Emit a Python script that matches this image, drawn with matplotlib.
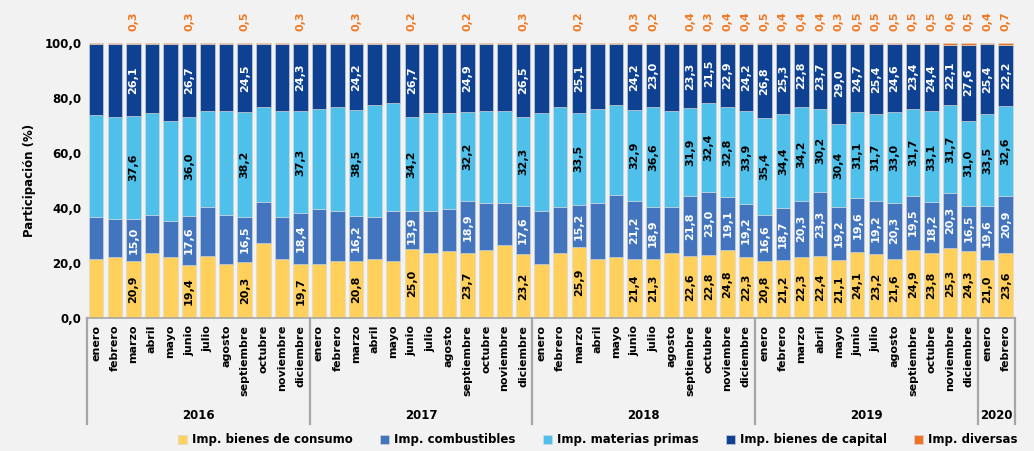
"""
Participación de las importaciones por tipo (%), enero 2016 - febrero 2020
"""
import matplotlib
matplotlib.use("Agg")
import matplotlib.pyplot as plt
import numpy as np

plt.rcParams["font.family"] = ["DejaVu Sans"]

MESES = ["enero", "febrero", "marzo", "abril", "mayo", "junio", "julio",
         "agosto", "septiembre", "octubre", "noviembre", "diciembre"]
meses = MESES * 4 + MESES[:2]
anios = ["2016", "2017", "2018", "2019", "2020"]
meses_por_anio = [12, 12, 12, 12, 2]

# --- data (% of total imports) ---
consumo = [21.3, 22.0, 20.9, 23.5, 22.0, 19.4, 22.7, 19.8, 20.3, 27.2, 21.3, 19.7,
           19.8, 20.6, 20.8, 21.3, 20.6, 25.0, 23.5, 24.2, 23.7, 24.9, 26.4, 23.2,
           19.8, 23.5, 25.9, 21.3, 22.0, 21.4, 21.3, 23.5, 22.6, 22.8, 24.8, 22.3,
           20.8, 21.2, 22.3, 22.4, 21.1, 24.1, 23.2, 21.6, 24.9, 23.8, 25.3, 24.3,
           21.0, 23.6]
combustibles = [15.5, 14.0, 15.0, 14.0, 13.3, 17.6, 17.7, 17.7, 16.5, 14.8, 15.5, 18.4,
                19.9, 18.3, 16.2, 15.5, 18.3, 13.9, 15.4, 15.5, 18.9, 16.9, 15.4, 17.6,
                19.1, 16.9, 15.2, 20.5, 22.9, 21.2, 18.9, 16.9, 21.8, 23.0, 19.1, 19.2,
                16.6, 18.7, 20.3, 23.3, 19.2, 19.6, 19.2, 20.3, 19.5, 18.2, 20.3, 16.5,
                19.6, 20.9]
materias = [37.0, 37.2, 37.6, 37.1, 36.3, 36.0, 34.9, 37.8, 38.2, 34.8, 38.5, 37.3,
            36.4, 37.9, 38.5, 40.7, 39.3, 34.2, 35.7, 34.9, 32.2, 33.5, 33.5, 32.3,
            35.7, 36.4, 33.5, 34.3, 32.6, 32.9, 36.6, 34.9, 31.9, 32.4, 32.8, 33.9,
            35.4, 34.4, 34.2, 30.2, 30.4, 31.1, 31.7, 33.0, 31.7, 33.1, 31.7, 31.0,
            33.5, 32.6]
capital = [26.0, 26.6, 26.1, 25.0, 28.0, 26.7, 24.3, 24.5, 24.5, 22.8, 24.5, 24.3,
           23.7, 23.0, 24.2, 22.3, 21.6, 26.7, 25.2, 25.2, 24.9, 24.5, 24.5, 26.5,
           25.2, 23.0, 25.1, 23.5, 22.2, 24.2, 23.0, 24.5, 23.3, 21.5, 22.9, 24.2,
           26.8, 25.3, 22.8, 23.7, 29.0, 24.7, 25.4, 24.6, 23.4, 24.4, 22.1, 27.6,
           25.4, 22.2]
diversas = [0.2, 0.2, 0.3, 0.4, 0.4, 0.3, 0.4, 0.2, 0.5, 0.4, 0.2, 0.3,
            0.2, 0.2, 0.3, 0.2, 0.2, 0.2, 0.2, 0.2, 0.2, 0.2, 0.2, 0.3,
            0.2, 0.2, 0.2, 0.4, 0.3, 0.3, 0.2, 0.2, 0.4, 0.3, 0.4, 0.4,
            0.5, 0.4, 0.4, 0.4, 0.3, 0.5, 0.5, 0.5, 0.5, 0.5, 0.6, 0.5,
            0.4, 0.7]
# bars that carry data labels in the original
etiquetados = [2, 5, 8, 11, 14, 17, 20, 23, 26, 29, 30] + list(range(32, 50))

SERIES = [
    ("Imp. bienes de consumo", consumo, "#FFD05C", "black"),
    ("Imp. combustibles", combustibles, "#4275BD", "white"),
    ("Imp. materias primas", materias, "#4FC0EA", "black"),
    ("Imp. bienes de capital", capital, "#0E4192", "white"),
    ("Imp. diversas", diversas, "#EC7424", None),
]
ORANGE_TXT = "#F07A22"
BG = "#F2F2F2"

fig = plt.figure(figsize=(10.34, 4.51), dpi=100, facecolor=BG)
ax = fig.add_axes([0.0841, 0.2949, 0.8975, 0.6098])
ax.set_facecolor(BG)

x = np.arange(len(meses))
bottom = np.zeros(len(meses))
handles = []
for name, vals, color, txtcol in SERIES:
    vals = np.array(vals)
    h = ax.bar(x, vals, 0.78, bottom=bottom, color=color,
               edgecolor="#d9d9d9", linewidth=0.4, label=name)
    handles.append(h)
    if txtcol is not None:
        for i in etiquetados:
            ax.text(x[i], bottom[i] + vals[i] / 2, f"{vals[i]:.1f}".replace(".", ","),
                    rotation=90, ha="center", va="center", fontsize=8,
                    fontweight="bold", color=txtcol)
    else:
        for i in etiquetados:
            ax.text(x[i], 104.5, f"{vals[i]:.1f}".replace(".", ","),
                    rotation=90, ha="center", va="bottom", fontsize=8,
                    fontweight="bold", color=ORANGE_TXT, clip_on=False)
    bottom += vals

ax.set_xlim(-0.5, len(meses) - 0.5)
ax.set_ylim(0, 100)
ax.set_yticks(np.arange(0, 101, 20))
ax.set_yticklabels([f"{v:.1f}".replace(".", ",") for v in np.arange(0, 101, 20)],
                   fontsize=8.5, fontweight="bold")
ax.set_ylabel("Participación (%)", fontsize=8.5, fontweight="bold", labelpad=6)
ax.set_xticks(x)
ax.set_xticklabels(meses, rotation=90, fontsize=8, fontweight="bold", va="top")
ax.tick_params(length=0, pad=4)
ax.tick_params(axis="x", pad=5)
for s in ["top", "right", "left"]:
    ax.spines[s].set_visible(False)
ax.spines["bottom"].set_color("#a6a6a6")
ax.spines["bottom"].set_linewidth(1.2)

# multi-level category axis (years)
trans = ax.get_xaxis_transform()
bordes = np.concatenate([[0], np.cumsum(meses_por_anio)]) - 0.5
for b in bordes:
    ax.plot([b, b], [0, -0.385], transform=trans, color="#a6a6a6",
            linewidth=1.6, clip_on=False)
for a, ini, fin in zip(anios, bordes[:-1], bordes[1:]):
    ax.text((ini + fin) / 2, -0.355, a, transform=trans, ha="center", va="center",
            fontsize=8.5, fontweight="bold")

fig.legend(handles=handles, loc="center", bbox_to_anchor=(0.578, 0.025), ncol=5,
           frameon=False, prop={"weight": "bold", "size": 8.5},
           handlelength=0.8, handleheight=0.8, handletextpad=0.4, columnspacing=2.3)

fig.savefig("out.png", dpi=100, facecolor=BG)
